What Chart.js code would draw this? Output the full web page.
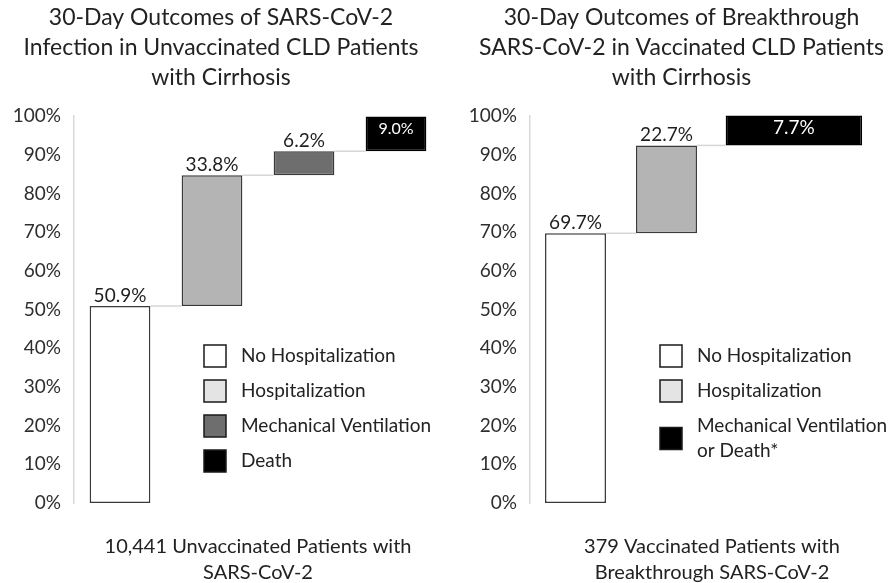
<!DOCTYPE html>
<html>
<head>
<meta charset="utf-8">
<script src="https://cdn.jsdelivr.net/npm/chart.js@4.4.1/dist/chart.umd.min.js"></script>
<style>
  html, body { margin: 0; padding: 0; background: #fff; overflow: hidden; }
  .panel { position: absolute; top: 0; width: 447px; height: 586px; }
  #left { left: 0; }
  #right { left: 447px; }
</style>
</head>
<body>
<div class="panel" id="left"><canvas id="chartLeft" width="447" height="586"></canvas></div>
<div class="panel" id="right"><canvas id="chartRight" width="447" height="586"></canvas></div>
<script>
// ---- data ----
const leftTitle = ['30-Day Outcomes of SARS-CoV-2', 'Infection in Unvaccinated CLD Patients', 'with Cirrhosis'];
const leftCaption = ['10,441 Unvaccinated Patients with', 'SARS-CoV-2'];
const leftOutcomes = ['No Hospitalization', 'Hospitalization', 'Mechanical Ventilation', 'Death'];
const leftPercents = [50.9, 33.8, 6.2, 9.0];

const rightTitle = ['30-Day Outcomes of Breakthrough', 'SARS-CoV-2 in Vaccinated CLD Patients', 'with Cirrhosis'];
const rightCaption = ['379 Vaccinated Patients with', 'Breakthrough SARS-CoV-2'];
const rightOutcomes = ['No Hospitalization', 'Hospitalization', ['Mechanical Ventilation', 'or Death*']];
const rightPercents = [69.7, 22.7, 7.7];

const yTicks = [0, 10, 20, 30, 40, 50, 60, 70, 80, 90, 100];

// ---- styles ----
const leftFills = ['#ffffff', '#b4b4b4', '#6e6e6e', '#000000'];
const leftSwatches = ['#ffffff', '#e4e4e4', '#6e6e6e', '#000000'];
const rightFills = ['#ffffff', '#b4b4b4', '#000000'];
const rightSwatches = ['#ffffff', '#e4e4e4', '#000000'];

Chart.defaults.font.family = 'Lato';
Chart.defaults.color = '#262626';

// build floating bars, each outcome its own dataset so widths can differ
function waterfall(outcomes, percents, slots, widths, fills, swatches) {
  let run = 0;
  return outcomes.map((name, i) => {
    const start = run;
    run = +(run + percents[i]).toFixed(1);
    return {
      label: name,
      data: [{ x: slots[i], y: [start, run] }],
      value: percents[i],
      swatch: swatches[i],
      backgroundColor: fills[i],
      borderColor: fills[i] === '#000000' ? '#000000' : '#3a3a3a',
      borderWidth: 1.5,
      borderSkipped: false,
      barPercentage: widths[i],
      categoryPercentage: 1,
      grouped: false,
      clip: false
    };
  });
}

const waterfallDecor = {
  id: 'waterfallDecor',
  beforeDatasetsDraw(chart) {
    // light connector lines between steps
    const ctx = chart.ctx;
    const bars = chart.data.datasets.map((d, i) => chart.getDatasetMeta(i).data[0]);
    ctx.save();
    ctx.strokeStyle = '#d6d6d6';
    ctx.lineWidth = 1.5;
    for (let i = 0; i < bars.length - 1; i++) {
      const a = bars[i], b = bars[i + 1];
      ctx.beginPath();
      ctx.moveTo(a.x + a.width / 2, a.y);
      ctx.lineTo(b.x - b.width / 2, a.y);
      ctx.stroke();
    }
    ctx.restore();
  },
  afterDatasetsDraw(chart) {
    const ctx = chart.ctx;
    ctx.save();
    ctx.textAlign = 'center';
    chart.data.datasets.forEach((ds, i) => {
      const bar = chart.getDatasetMeta(i).data[0];
      const txt = ds.value.toFixed(1) + '%';
      if (ds.backgroundColor === '#000000') {
        ctx.fillStyle = '#ffffff';
        ctx.font = (chart.options.insideLabelSize || 19) + 'px Lato';
        ctx.textBaseline = 'middle';
        ctx.fillText(txt, bar.x, bar.y + 12);
      } else {
        ctx.fillStyle = '#1e1e1e';
        ctx.font = '19px Lato';
        ctx.textBaseline = 'bottom';
        ctx.fillText(txt, bar.x, bar.y - 1);
      }
    });
    ctx.restore();
  },
  afterDraw(chart) {
    // legend inside plot area
    const ctx = chart.ctx, area = chart.chartArea;
    const x0 = area.left + 130;
    let cy = area.top + 240;
    ctx.save();
    ctx.font = '19px Lato';
    ctx.textBaseline = 'middle';
    ctx.textAlign = 'left';
    chart.data.datasets.forEach((ds, i) => {
      const lines = [].concat(ds.label);
      if (i > 0) cy += 35 + (lines.length - 1) * 12.5;
      ctx.fillStyle = ds.swatch;
      ctx.fillRect(x0, cy - 11, 22, 22);
      ctx.strokeStyle = '#1a1a1a';
      ctx.lineWidth = 1.5;
      ctx.strokeRect(x0, cy - 11, 22, 22);
      ctx.fillStyle = '#222';
      lines.forEach((ln, k) => ctx.fillText(ln, x0 + 37, cy + (k - (lines.length - 1) / 2) * 25));
    });
    ctx.restore();
  }
};

function makeChart(id, title, caption, datasets, yWidth, pad, insideLabelSize) {
  return new Chart(document.getElementById(id), {
    type: 'bar',
    data: { datasets: datasets },
    plugins: [waterfallDecor],
    options: {
      responsive: false,
      animation: false,
      insideLabelSize: insideLabelSize,
      layout: { padding: pad },
      plugins: {
        legend: { display: false },
        tooltip: { enabled: false },
        title: {
          display: true,
          text: title,
          color: '#222',
          font: { size: 23, weight: 'normal', lineHeight: '30px' },
          padding: { top: 3, bottom: 23 }
        }
      },
      scales: {
        x: {
          type: 'linear',
          min: 0,
          max: 4,
          offset: false,
          grid: { display: false, drawTicks: false },
          border: { display: false },
          ticks: { display: false, stepSize: 1 },
          title: {
            display: true,
            text: caption,
            color: '#222',
            font: { size: 20, lineHeight: '26px' },
            padding: { top: 31, bottom: 0 }
          }
        },
        y: {
          min: 0,
          max: 100,
          grid: { display: false, drawTicks: false },
          border: { display: true, color: '#d9d9d9', width: 1.5 },
          afterBuildTicks: s => { s.ticks = yTicks.map(v => ({ value: v })); },
          ticks: { callback: v => v + '%', color: '#2e2e2e', font: { size: 19 }, padding: 13 },
          afterFit: s => { s.width = yWidth; }
        }
      }
    }
  });
}

makeChart('chartLeft', leftTitle, leftCaption,
  waterfall(leftOutcomes, leftPercents, [0.5, 1.5, 2.5, 3.5], [0.66, 0.66, 0.66, 0.66], leftFills, leftSwatches),
  74, { left: 0, right: 5, top: 0, bottom: 0 }, 16);

makeChart('chartRight', rightTitle, rightCaption,
  waterfall(rightOutcomes, rightPercents, [0.5, 1.5, 2.9], [0.67, 0.67, 1.5], rightFills, rightSwatches),
  61, { left: 22, right: 0, top: 0, bottom: 0 }, 19);
</script>
</body>
</html>
